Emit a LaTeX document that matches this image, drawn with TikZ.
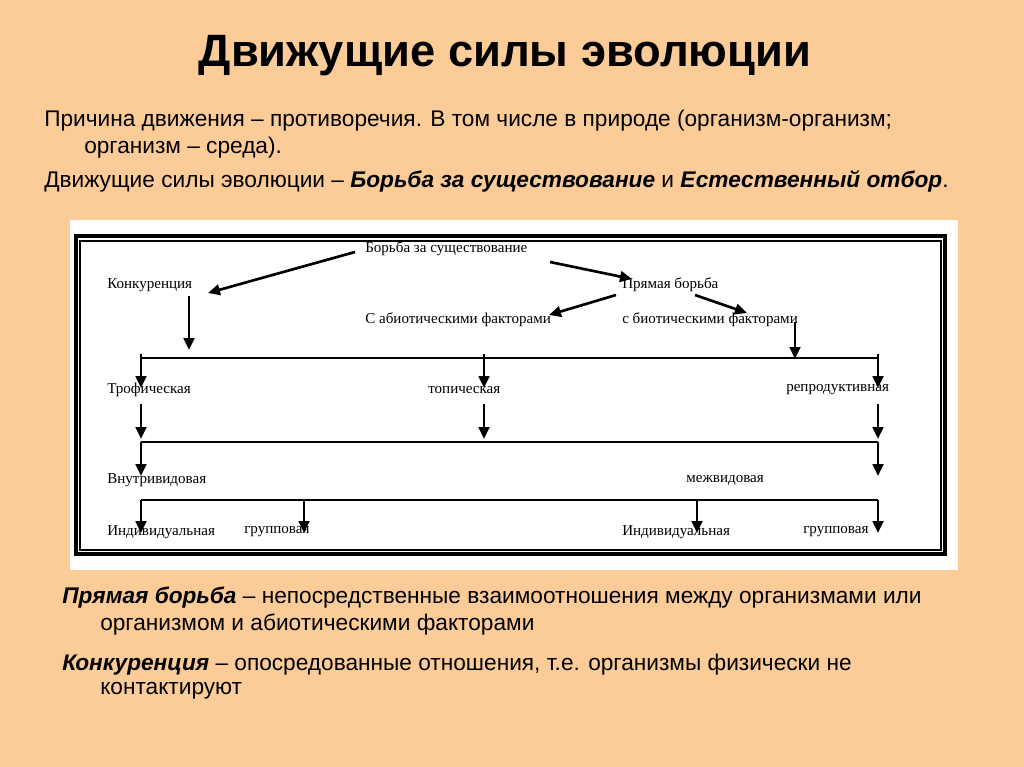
\documentclass[tikz,border=0pt]{standalone}
\usepackage{fontspec}
\setmainfont{Liberation Sans}
\newfontfamily\dserif{Liberation Serif}
\usetikzlibrary{arrows.meta}
\definecolor{bg}{HTML}{FBCB98}
\begin{document}
\begin{tikzpicture}[x=0.75pt,y=-0.75pt,
  lbl/.style={anchor=west,inner sep=0pt,font=\dserif\fontsize{11.3}{12}\selectfont},
  arr/.style={line width=2pt,-{Triangle[length=9pt,width=8pt]}},
  hl/.style={line width=0.8pt},
  body/.style={anchor=west,inner sep=0pt,font=\fontsize{17}{19}\selectfont}]
\fill[bg] (0,0) rectangle (1024,767);
\useasboundingbox (0,0) rectangle (1024,767);
\node (title) at (505,56) {\fontsize{34}{38}\selectfont\bfseries Движущие силы эволюции};
\node[body] (p1) at (44,121) {Причина движения – противоречия. В том числе в природе (организм-организм;};
\node[body] (p2) at (84,148) {организм – среда).};
\node[body] (p3) at (44,181) {Движущие силы эволюции – \textbf{\textit{Борьба за существование}} и \textbf{\textit{Естественный отбор}}.};
\fill[white] (70,220) rectangle (958,570);
\draw[line width=3pt] (76,236) rectangle (945,554);
\draw[line width=0.8pt] (80,241) rectangle (941,550);
% labels
\node[lbl] (bz) at (365,249) {Борьба за существование};
\node[lbl] (kon) at (107,285) {Конкуренция};
\node[lbl] (pb) at (622,285) {Прямая борьба};
\node[lbl] (ab) at (365,320) {С абиотическими факторами};
\node[lbl] (bio) at (622,320) {с биотическими факторами};
\node[lbl] (tro) at (107,390) {Трофическая};
\node[lbl] (top) at (428,390) {топическая};
\node[lbl] (rep) at (786,390) {репродуктивная};
\node[lbl] (vnu) at (107,480) {Внутривидовая};
\node[lbl] (mez) at (686,480) {межвидовая};
\node[lbl] (ind1) at (107,532) {Индивидуальная};
\node[lbl] (gr1) at (244,532) {групповая};
\node[lbl] (ind2) at (622,532) {Индивидуальная};
\node[lbl] (gr2) at (803,532) {групповая};
% coordinates
\coordinate (a1s) at (355,252); \coordinate (a1e) at (208,293);
\coordinate (a2s) at (550,262); \coordinate (a2e) at (632,279);
\coordinate (a3s) at (616,295); \coordinate (a3e) at (549,315);
\coordinate (a4s) at (695,295); \coordinate (a4e) at (747,313);
\draw[arr] (a1s) -- (a1e);
\draw[arr] (a2s) -- (a2e);
\draw[arr] (a3s) -- (a3e);
\draw[arr] (a4s) -- (a4e);
\coordinate (L1a) at (141,358); \coordinate (L1b) at (878,358);
\coordinate (L2a) at (141,442); \coordinate (L2b) at (878,442);
\coordinate (L3a) at (141,500); \coordinate (L3b) at (878,500);
\draw[hl] (L1a) -- (L1b);
\draw[hl] (L2a) -- (L2b);
\draw[hl] (L3a) -- (L3b);
\draw[arr] (189,296) -- (189,350);
\draw[arr] (795,322) -- (795,359);
\foreach \x in {141,484,878} {
  \draw[arr] (\x,354) -- (\x,388);
  \draw[arr] (\x,404) -- (\x,439);
}
\foreach \x in {141,878} \draw[arr] (\x,442) -- (\x,476);
\foreach \x in {141,304,697,878} \draw[arr] (\x,500) -- (\x,533);
\node[body] (d1) at (62,598) {\textbf{\textit{Прямая борьба}} – непосредственные взаимоотношения между организмами или};
\node[body] (d2) at (100,625) {организмом и абиотическими факторами};
\node[body] (d3) at (62,665) {\textbf{\textit{Конкуренция}} – опосредованные отношения, т.е. организмы физически не};
\node[body] (d4) at (100,691) {контактируют};
\end{tikzpicture}
\end{document}
